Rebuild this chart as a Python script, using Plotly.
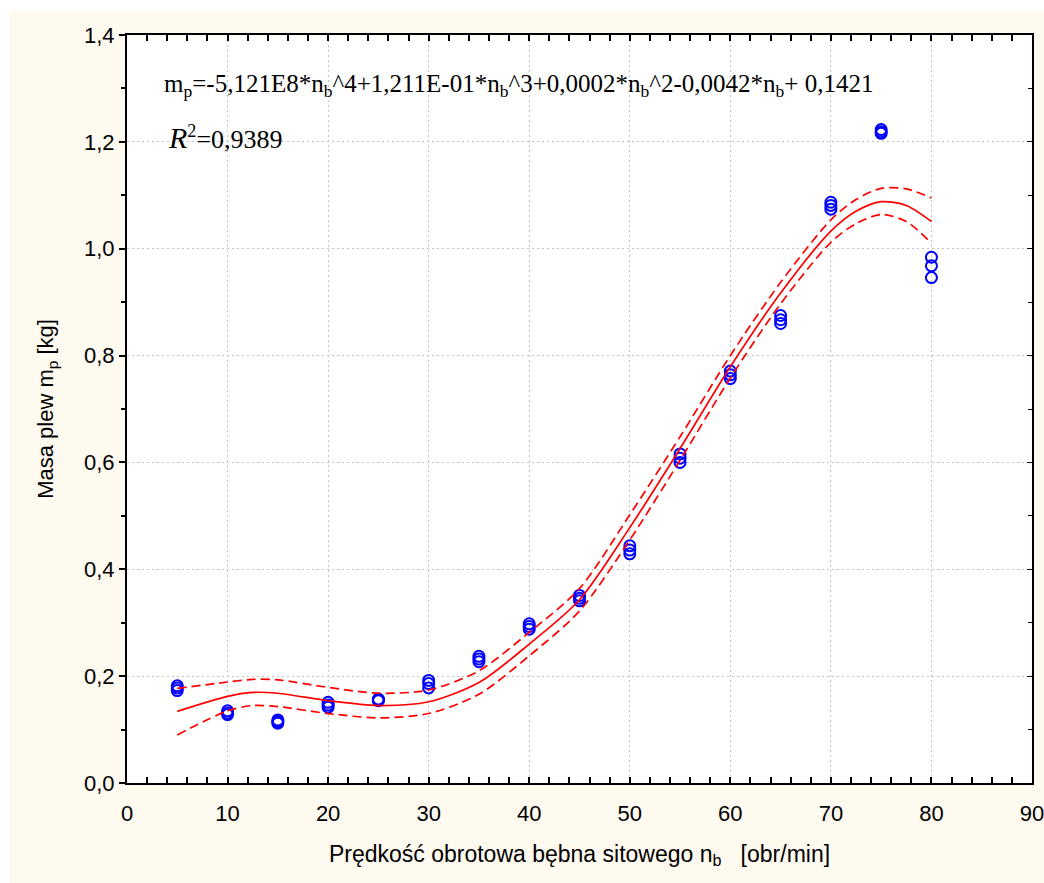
import plotly.graph_objects as go

# ---- data ----
speed = [5, 10, 15, 20, 25, 30, 35, 40, 45, 50, 55, 60, 65, 70, 75, 80]
obs1 = [0.182, 0.135, 0.118, 0.151, 0.157, 0.192, 0.237, 0.298, 0.351, 0.444, 0.616, 0.771, 0.875, 1.087, 1.223, 0.984]
obs2 = [0.178, 0.131, 0.115, 0.146, 0.155, 0.186, 0.232, 0.293, 0.346, 0.436, 0.608, 0.764, 0.867, 1.081, 1.219, 0.968]
obs3 = [0.173, 0.128, 0.112, 0.142, 0.154, 0.178, 0.227, 0.288, 0.341, 0.429, 0.600, 0.757, 0.860, 1.074, 1.216, 0.946]

fit_x = [5, 10, 12.5, 15, 20, 25, 30, 35, 40, 45, 50, 55, 60, 65, 70, 72.5, 75, 77.5, 80]
fit_y = [0.134, 0.162, 0.1695, 0.168, 0.154, 0.145, 0.152, 0.188, 0.260, 0.343, 0.478, 0.626, 0.779, 0.917, 1.033, 1.070, 1.088, 1.081, 1.051]
upper_y = [0.177, 0.189, 0.194, 0.193, 0.179, 0.168, 0.174, 0.210, 0.282, 0.364, 0.502, 0.648, 0.800, 0.937, 1.054, 1.092, 1.113, 1.112, 1.095]
lower_y = [0.090, 0.135, 0.145, 0.143, 0.130, 0.122, 0.130, 0.166, 0.238, 0.322, 0.455, 0.604, 0.758, 0.897, 1.012, 1.047, 1.064, 1.051, 1.010]

x_ticks = [0, 10, 20, 30, 40, 50, 60, 70, 80, 90]
y_ticks = [0.0, 0.2, 0.4, 0.6, 0.8, 1.0, 1.2, 1.4]

equation = ("m<sub>p</sub>=-5,121E8*n<sub>b</sub>^4+1,211E-01*n<sub>b</sub>^3+0,0002*n<sub>b</sub>^2"
            "-0,0042*n<sub>b</sub>+ 0,1421")
r2_text = "<i><span style='font-size:30px'>R</span></i><sup>2</sup>=0,9389"

# ---- figure ----
fig = go.Figure()

obs_x = speed * 3
obs_y = obs1 + obs2 + obs3
fig.add_trace(go.Scatter(
    x=obs_x, y=obs_y, mode="markers",
    marker=dict(symbol="circle-open", size=11, color="#0000FF", line=dict(width=2, color="#0000FF")),
    showlegend=False))

for yy, dash in [(upper_y, "9px,5px"), (lower_y, "9px,5px"), (fit_y, "solid")]:
    fig.add_trace(go.Scatter(
        x=fit_x, y=yy, mode="lines",
        line=dict(color="#FF0000", width=1.7, dash=dash, shape="spline", smoothing=0.8),
        showlegend=False))

L, R, T, B = 127, 12, 35, 100
W, H = 1044, 883
pw, ph = W - L - R, H - T - B


def px_x(p):
    return (p - L) / pw


def px_y(p):
    return (H - B - p) / ph


sans = "Liberation Sans, Arial, sans-serif"
tick_font = dict(family=sans, size=22, color="black")
serif = "Liberation Serif, Times New Roman, serif"

fig.update_layout(
    width=W, height=H,
    margin=dict(l=L, r=R, t=T, b=B, autoexpand=False),
    paper_bgcolor="white",
    plot_bgcolor="white",
    separators=", ",
    font=tick_font,
    xaxis=dict(
        range=[0, 90], tickvals=x_ticks, ticks="inside", ticklen=6, tickwidth=1.5, tickcolor="black",
        showline=True, linecolor="black", linewidth=2, mirror="allticks",
        showgrid=True, gridcolor="#C4C4C4", griddash="2px,3px", gridwidth=1,
        minor=dict(dtick=2, ticks="inside", ticklen=4, tickcolor="black", showgrid=False),
        zeroline=False, tickfont=tick_font, ticklabelstandoff=10, automargin=False,
        ticklabeloverflow="allow",
        title=dict(text="Prędkość obrotowa bębna sitowego n<sub>b</sub>&nbsp;&nbsp; [obr/min]",
                   font=dict(family=sans, size=23, color="black"), standoff=20),
    ),
    yaxis=dict(
        range=[0, 1.4], tickvals=y_ticks, tickformat=".1f", ticks="outside", ticklen=6, tickwidth=1.5,
        tickcolor="black", showline=True, linecolor="black", linewidth=2, mirror=True,
        showgrid=True, gridcolor="#C4C4C4", griddash="2px,3px", gridwidth=1,
        minor=dict(dtick=0.1, ticks="outside", ticklen=4, tickcolor="black", showgrid=False),
        zeroline=False, tickfont=tick_font, automargin=False, ticklabeloverflow="allow",
        title=dict(text="Masa plew m<sub>p</sub> [kg]", font=dict(family=sans, size=22, color="black"),
                   standoff=24),
    ),
    yaxis2=dict(
        overlaying="y", side="right", range=[0, 1.4], tickvals=y_ticks, ticks="inside", ticklen=5,
        tickcolor="black", showticklabels=False, showgrid=False, zeroline=False, showline=False,
        minor=dict(dtick=0.1, ticks="inside", ticklen=4, tickcolor="black"), automargin=False,
    ),
    shapes=[
        dict(type="rect", xref="paper", yref="paper", layer="below",
             x0=px_x(10), x1=px_x(W + 2), y0=px_y(H + 2), y1=px_y(10),
             fillcolor="#FFFAF0", line=dict(width=0)),
        dict(type="rect", xref="paper", yref="paper", layer="below",
             x0=0, x1=1, y0=0, y1=1, fillcolor="white", line=dict(width=0)),
    ],
    annotations=[
        dict(text=equation, xref="paper", yref="paper", x=px_x(162), y=px_y(85),
             xanchor="left", yanchor="middle", showarrow=False,
             font=dict(family=serif, size=25, color="black")),
        dict(text=r2_text, xref="paper", yref="paper", x=px_x(166), y=px_y(137),
             xanchor="left", yanchor="middle", showarrow=False,
             font=dict(family=serif, size=26, color="black")),
    ],
)

# invisible trace so the right-hand axis is drawn
fig.add_trace(go.Scatter(x=[None], y=[None], yaxis="y2", showlegend=False, hoverinfo="skip"))

fig.write_html("out.html")
